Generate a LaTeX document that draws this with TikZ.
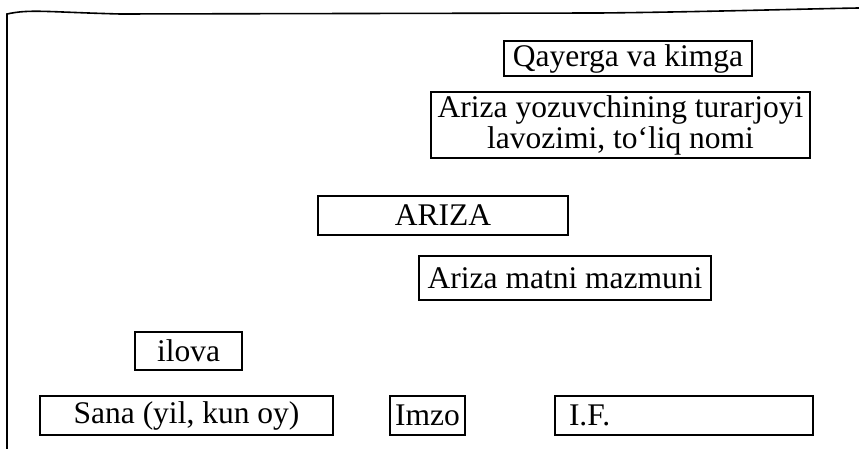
\documentclass[tikz,border=0pt]{standalone}
\usepackage{fontspec}
\setmainfont{Liberation Serif}
\usepackage{tikz}

\begin{document}
\begin{tikzpicture}[x=1pt, y=1pt, line width=1.3pt,
    box/.style={draw, rectangle, inner sep=0pt, font=\fontsize{31.5}{31}\selectfont}]
    \useasboundingbox (0,0) rectangle (859,449);
    % page edge
    \draw[line width=1.6pt] (7,0) -- (7,435) .. controls (30,440) and (45,437) .. (120,435)
        -- (600,436) .. controls (700,437) and (800,440) .. (859,441);
    \node [box, minimum width=248, minimum height=35] (qk) at (628,390.5) {Qayerga va kimga};
    \node [box, minimum width=379, minimum height=66, align=center] (muallif) at (620.5,324)
        {Ariza yozuvchining turarjoyi\\lavozimi, to`liq nomi};
    \node [box, minimum width=250, minimum height=39] (ariza) at (443,233.5) {ARIZA};
    \node [box, minimum width=292, minimum height=44] (matn) at (565,171) {Ariza matni mazmuni};
    \node [box, minimum width=107, minimum height=38] (ilova) at (188.5,98) {ilova};
    \node [box, minimum width=293, minimum height=39] (sana) at (186.5,33.5) {Sana (yil, kun oy)};
    \node [box, minimum width=75, minimum height=39] (imzo) at (427.5,33.5) {Imzo};
    \node [box, minimum height=39, text width=230, inner xsep=14pt, align=left] (fio) at (684,33.5) {I.F.};
\end{tikzpicture}
\end{document}
